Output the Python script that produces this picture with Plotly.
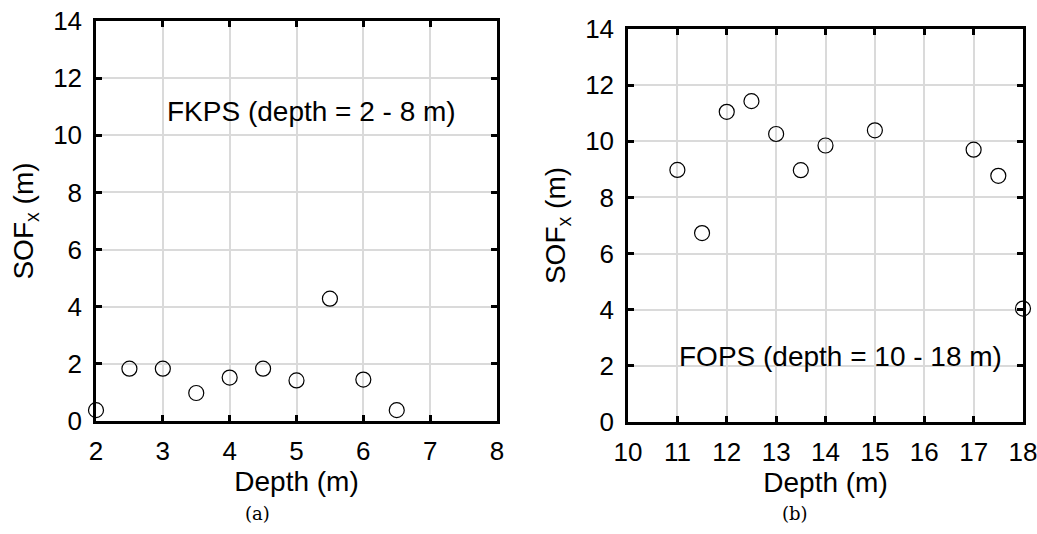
import plotly.graph_objects as go

# FKPS profile (depth 2 - 8 m)
fkps_depth = [2.0, 2.5, 3.0, 3.5, 4.0, 4.5, 5.0, 5.5, 6.0, 6.5]
fkps_sof = [0.38, 1.83, 1.83, 0.98, 1.52, 1.83, 1.42, 4.28, 1.45, 0.38]

# FOPS profile (depth 10 - 18 m)
fops_depth = [11.0, 11.5, 12.0, 12.5, 13.0, 13.5, 14.0, 15.0, 17.0, 17.5, 18.0]
fops_sof = [8.98, 6.73, 11.05, 11.43, 10.26, 8.97, 9.85, 10.39, 9.70, 8.77, 4.04]

y_ticks = [0, 2, 4, 6, 8, 10, 12, 14]
fkps_x_ticks = [2, 3, 4, 5, 6, 7, 8]
fops_x_ticks = list(range(10, 19))

W, H = 1037, 534
FONT = "Liberation Sans, Arial, sans-serif"
SERIF = "DejaVu Serif, Liberation Serif, serif"
TICK_SIZE = 26
TITLE_SIZE = 28

marker = dict(symbol="circle-open", size=15, color="black", line=dict(width=1.2, color="black"))

fig = go.Figure()
fig.add_trace(go.Scatter(x=fkps_depth, y=fkps_sof, mode="markers", marker=marker,
                         cliponaxis=False, xaxis="x", yaxis="y", showlegend=False))
fig.add_trace(go.Scatter(x=fops_depth, y=fops_sof, mode="markers", marker=marker,
                         cliponaxis=False, xaxis="x2", yaxis="y2", showlegend=False))

axis_common = dict(
    automargin=False,
    ticklabeloverflow="allow",
    showline=True, linecolor="black", linewidth=2.5, mirror="allticks",
    ticks="inside", ticklen=6, tickwidth=2.5, tickcolor="black",
    showgrid=True, gridcolor="#dadada", gridwidth=2,
    zeroline=False,
    tickfont=dict(family=FONT, size=TICK_SIZE, color="black"),
)

title_font = dict(family=FONT, size=TITLE_SIZE, color="black")
caption_font = dict(family=SERIF, size=18, color="black")

def px_x(a, b):
    return [a / W, b / W]

def px_y(top, bottom):
    return [1 - bottom / H, 1 - top / H]

fig.update_layout(
    width=W, height=H,
    margin=dict(l=0, r=0, t=0, b=0),
    paper_bgcolor="white", plot_bgcolor="white",
    xaxis=dict(axis_common, domain=px_x(96, 497), range=[2, 8], tickvals=fkps_x_ticks,
               anchor="y", ticklabelstandoff=5,
               title=dict(text="Depth (m)", font=title_font, standoff=4)),
    yaxis=dict(axis_common, domain=px_y(21, 421), range=[0, 14], tickvals=y_ticks,
               anchor="x", ticklabelstandoff=6,
               title=dict(text="SOF<sub>x</sub> (m)", font=title_font, standoff=12)),
    xaxis2=dict(axis_common, domain=px_x(628, 1023), range=[10, 18], tickvals=fops_x_ticks,
                anchor="y2", ticklabelstandoff=5,
                title=dict(text="Depth (m)", font=title_font, standoff=4)),
    yaxis2=dict(axis_common, domain=px_y(29, 422), range=[0, 14], tickvals=y_ticks,
                anchor="x2", ticklabelstandoff=6,
                title=dict(text="SOF<sub>x</sub> (m)", font=title_font, standoff=12)),
    annotations=[
        dict(text="FKPS (depth = 2 - 8 m)", x=5.22, y=10.85, xref="x", yref="y",
             showarrow=False, font=title_font),
        dict(text="FOPS (depth = 10 - 18 m)", x=14.31, y=2.35, xref="x2", yref="y2",
             showarrow=False, font=title_font),
        dict(text="(a)", x=257 / W, y=1 - 513 / H, xref="paper", yref="paper",
             xanchor="center", yanchor="middle", showarrow=False, font=caption_font),
        dict(text="(b)", x=795 / W, y=1 - 513 / H, xref="paper", yref="paper",
             xanchor="center", yanchor="middle", showarrow=False, font=caption_font),
    ],
)

fig.write_html("out.html")
